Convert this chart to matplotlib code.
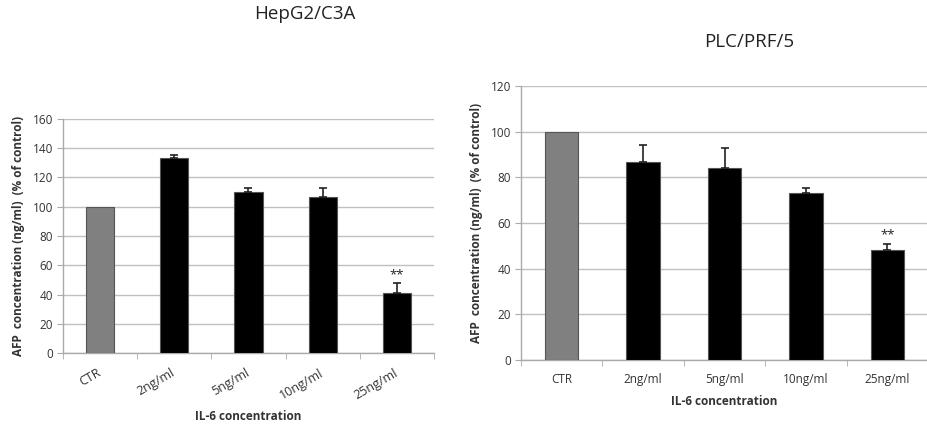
import matplotlib
matplotlib.use("Agg")
import matplotlib.pyplot as plt
import numpy as np

plt.rcParams['font.family'] = ['Open Sans', 'DejaVu Sans']

categories = ["CTR", "2ng/ml", "5ng/ml", "10ng/ml", "25ng/ml"]
hep_values = [100, 133, 110, 107, 41]
hep_err = [0, 2.5, 3, 6, 7]
plc_values = [100, 86.5, 84, 73, 48]
plc_err = [0, 7.5, 9, 2.5, 3]
hep_yticks = [0, 20, 40, 60, 80, 100, 120, 140, 160]
plc_yticks = [0, 20, 40, 60, 80, 100, 120]

W, H = 928, 425
fig = plt.figure(figsize=(W/100, H/100), dpi=100)

def px_axes(l, t, r, b):
    return fig.add_axes([l/W, 1-b/H, (r-l)/W, (b-t)/H])

def style(ax, vals, errs, yticks, width, rot, xpad):
    x = np.arange(len(categories))
    colors = ['#808080'] + ['#000000']*(len(categories)-1)
    ax.bar(x, vals, width=width, color=colors, edgecolor='#555555', linewidth=0.8, zorder=3)
    xe = x[1:]
    ax.errorbar(xe, np.array(vals)[1:], yerr=[np.zeros(len(xe)), np.array(errs)[1:]],
                fmt='none', ecolor='#222222', elinewidth=1.2, capsize=3, capthick=1.2, zorder=4)
    ax.text(x[-1], vals[-1]+errs[-1]+1.0, '**', ha='center', va='bottom', fontsize=9.5,
            color='#222222')
    ax.set_xlim(-0.5, len(categories)-0.5)
    ax.set_ylim(0, yticks[-1])
    ax.set_yticks(yticks)
    ax.set_yticklabels([str(t) for t in yticks], fontsize=8.5, color='#333333')
    ax.set_xticks(x)
    if rot:
        ax.set_xticklabels(categories, fontsize=9, color='#333333', rotation=rot,
                           ha='right', va='center', rotation_mode='anchor')
    else:
        ax.set_xticklabels(categories, fontsize=8.5, color='#333333')
    ax.set_xticks(np.arange(-0.5, len(categories), 1), minor=True)
    ax.tick_params(axis='x', which='major', length=0, pad=xpad)
    ax.tick_params(axis='x', which='minor', length=4, color='#aaaaaa', direction='out')
    ax.tick_params(axis='y', length=4, color='#aaaaaa', direction='out', pad=3)
    ax.yaxis.grid(True, color='#c0c0c0', linewidth=1)
    ax.set_axisbelow(True)
    for s in ['top', 'right']:
        ax.spines[s].set_visible(False)
    for s in ['left', 'bottom']:
        ax.spines[s].set_color('#aaaaaa')
        ax.spines[s].set_linewidth(1)
    ax.set_xlabel('IL-6 concentration', fontsize=8.5, fontweight='bold', color='#333333')
    ax.set_ylabel('AFP  concentration (ng/ml)  (% of control)', fontsize=8.5,
                  fontweight='bold', color='#333333')

ax1 = px_axes(63, 119, 434, 353)
style(ax1, hep_values, hep_err, hep_yticks, 0.38, 30, 13.5)
ax1.xaxis.set_label_coords(0.5, -0.245)
ax1.yaxis.set_label_coords(-0.102, 0.5)

ax2 = px_axes(521, 86, 928, 360)
style(ax2, plc_values, plc_err, plc_yticks, 0.41, 0, 9.4)
ax2.xaxis.set_label_coords(0.5, -0.128)
ax2.yaxis.set_label_coords(-0.093, 0.5)

fig.text(305/W, 1-14/H, 'HepG2/C3A', ha='center', va='center', fontsize=13.5, color='#222222')
fig.text(749/W, 1-42/H, 'PLC/PRF/5', ha='center', va='center', fontsize=13.5, color='#222222')

fig.savefig('out.png', dpi=100, facecolor='white')
